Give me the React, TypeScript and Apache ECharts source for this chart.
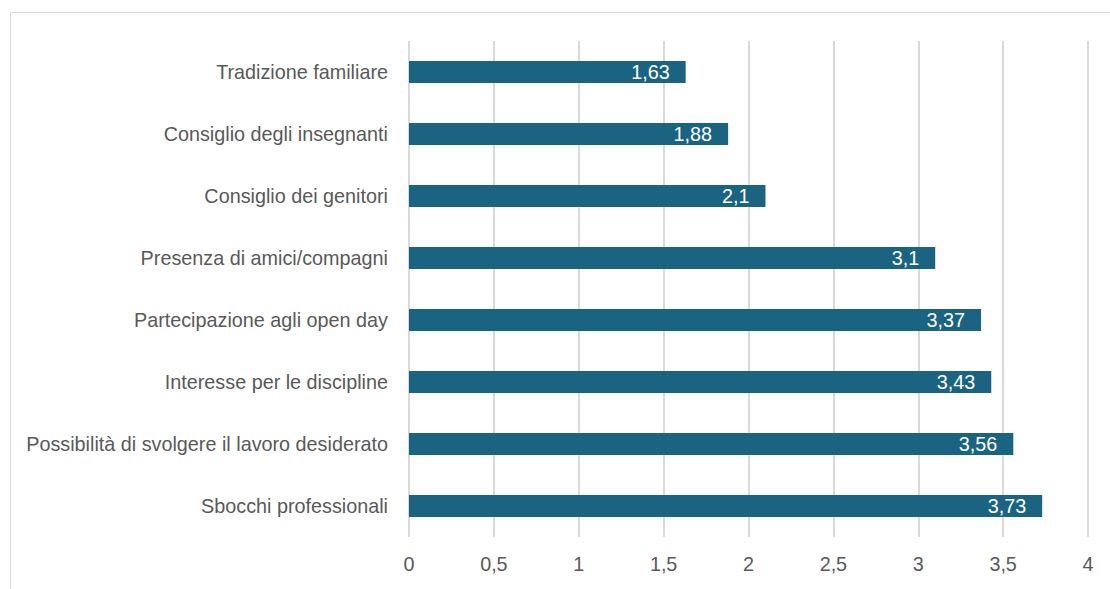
import React, { useEffect, useRef } from "react";
import * as echarts from "echarts";

const categories = [
  "Tradizione familiare",
  "Consiglio degli insegnanti",
  "Consiglio dei genitori",
  "Presenza di amici/compagni",
  "Partecipazione agli open day",
  "Interesse per le discipline",
  "Possibilità di svolgere il lavoro desiderato",
  "Sbocchi professionali",
];
const values = [1.63, 1.88, 2.1, 3.1, 3.37, 3.43, 3.56, 3.73];
const axisMin = 0;
const axisMax = 4;
const axisStep = 0.5;

const FONT = "'Liberation Sans Narrow', 'Arial Narrow', 'Liberation Sans', Arial, sans-serif";
const FS = 19.8;
const fmt = (v: number) => String(v).replace(".", ",");

export default function App() {
  const ref = useRef<HTMLDivElement>(null);
  useEffect(() => {
    if (!ref.current) return;
    const chart = echarts.init(ref.current, null, { renderer: "svg" });
    chart.setOption({
      animation: false,
      backgroundColor: "#ffffff",
      graphic: [
        {
          type: "rect",
          shape: { x: 10.5, y: 12.5, width: 1200, height: 700 },
          style: { fill: "none", stroke: "#d9d9d9", lineWidth: 1 },
          silent: true,
        },
      ],
      grid: {
        left: 409,
        right: 22,
        top: 41,
        bottom: 52,
        containLabel: false,
        outerBoundsMode: "none",
      },
      xAxis: {
        type: "value",
        min: axisMin,
        max: axisMax,
        interval: axisStep,
        axisLine: { show: false },
        axisTick: { show: false },
        splitLine: { show: true, lineStyle: { color: "#d9d9d9", width: 2 } },
        axisLabel: {
          color: "#595959",
          fontFamily: FONT,
          fontSize: FS,
          margin: 17,
          formatter: (v: number) => fmt(v),
        },
      },
      yAxis: {
        type: "category",
        data: categories,
        inverse: true,
        axisLine: { show: false },
        axisTick: { show: false },
        splitLine: { show: false },
        axisLabel: {
          color: "#595959",
          fontFamily: FONT,
          fontSize: FS,
          margin: 21,
        },
      },
      series: [
        {
          type: "bar",
          data: values,
          barWidth: 22,
          itemStyle: { color: "#1b6481" },
          label: {
            show: true,
            position: "insideRight",
            distance: 16,
            color: "#ffffff",
            fontFamily: FONT,
            fontSize: FS,
            formatter: (p: any) => fmt(p.value),
          },
        },
      ],
    });
    return () => chart.dispose();
  }, []);
  return (
    <div
      ref={ref}
      style={{ position: "absolute", left: 0, top: 0, width: 1110, height: 589 }}
    />
  );
}
